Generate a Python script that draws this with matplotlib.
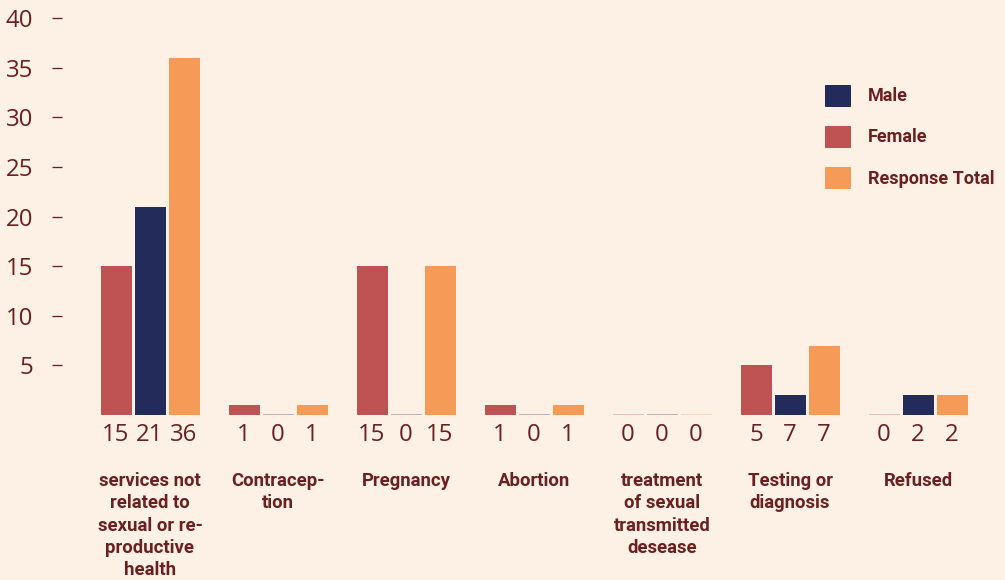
import matplotlib
matplotlib.use("Agg")
import matplotlib.pyplot as plt
from matplotlib.patches import Patch
import numpy as np

categories = [
    "services not\nrelated to\nsexual or re-\nproductive\nhealth",
    "Contracep-\ntion",
    "Pregnancy",
    "Abortion",
    "treatment\nof sexual\ntransmitted\ndesease",
    "Testing or\ndiagnosis",
    "Refused",
]
female = [15, 1, 15, 1, 0, 5, 0]
male = [21, 0, 0, 0, 0, 2, 2]
total = [36, 1, 15, 1, 0, 7, 2]
# numbers printed under the bars, as they appear in the source
value_labels = [
    ["15", "21", "36"],
    ["1", "0", "1"],
    ["15", "0", "15"],
    ["1", "0", "1"],
    ["0", "0", "0"],
    ["5", "7", "7"],
    ["0", "2", "2"],
]
yticks = [5, 10, 15, 20, 25, 30, 35, 40]

bg = "#fdf0e5"
text_c = "#6b2020"
c_female = "#bf5353"
c_male = "#222b59"
c_total = "#f59b57"

DPI = 72
fig = plt.figure(figsize=(1005 / DPI, 580 / DPI), dpi=DPI, facecolor=bg)
# axes: y=0 at pixel row 415, y=40 at row 18, left edge at x=62
ax = fig.add_axes([62 / 1005, 165 / 580, (1005 - 62) / 1005, 397 / 580], facecolor=bg)

x = np.arange(len(categories))
w = 31 / 128
step = 34 / 128
series = [(female, c_female), (male, c_male), (total, c_total)]
for k, (vals, col) in enumerate(series):
    vals = np.array(vals, dtype=float)
    xs = x + (k - 1) * step
    h = np.where(vals > 0, vals, 0.1)
    for xi, hi, v in zip(xs, h, vals):
        ax.bar(xi, hi, width=w, color=col, alpha=1.0 if v > 0 else 0.3, linewidth=0)
    for gi, xi in enumerate(xs):
        ax.annotate(value_labels[gi][k], (xi, 0), xytext=(0, -20), textcoords="offset pixels",
                    ha="center", va="center", fontsize=24, family="Open Sans", color=text_c)

for gi, cat in enumerate(categories):
    ax.annotate(cat, (x[gi], 0), xytext=(0, -57), textcoords="offset pixels",
                ha="center", va="top", fontsize=18.5, family="Roboto", fontweight="bold",
                color=text_c, linespacing=1.31)

ax.set_xlim(-88 / 128, (1005 - 150) / 128)
ax.set_ylim(0, 40)
ax.set_yticks(yticks)
ax.set_yticklabels([str(t) for t in yticks], fontsize=24, family="Open Sans", color=text_c)
ax.tick_params(axis="y", direction="out", length=10, width=1.3, color=text_c, pad=19)
ax.set_xticks([])
for s in ax.spines.values():
    s.set_visible(False)

handles = [Patch(color=c_male), Patch(color=c_female), Patch(color=c_total)]
leg = fig.legend(handles, ["Male", "Female", "Response Total"], loc="upper left",
                 bbox_to_anchor=(825 / 1005, 1 - 85 / 580), bbox_transform=fig.transFigure,
                 frameon=False, borderpad=0, borderaxespad=0,
                 handlelength=25 / 18, handleheight=25 / 18, handletextpad=1.0,
                 labelspacing=1.14, prop={"family": "Roboto", "weight": "bold", "size": 18})
for t in leg.get_texts():
    t.set_color(text_c)

fig.savefig("out.png", dpi=DPI, facecolor=bg)
